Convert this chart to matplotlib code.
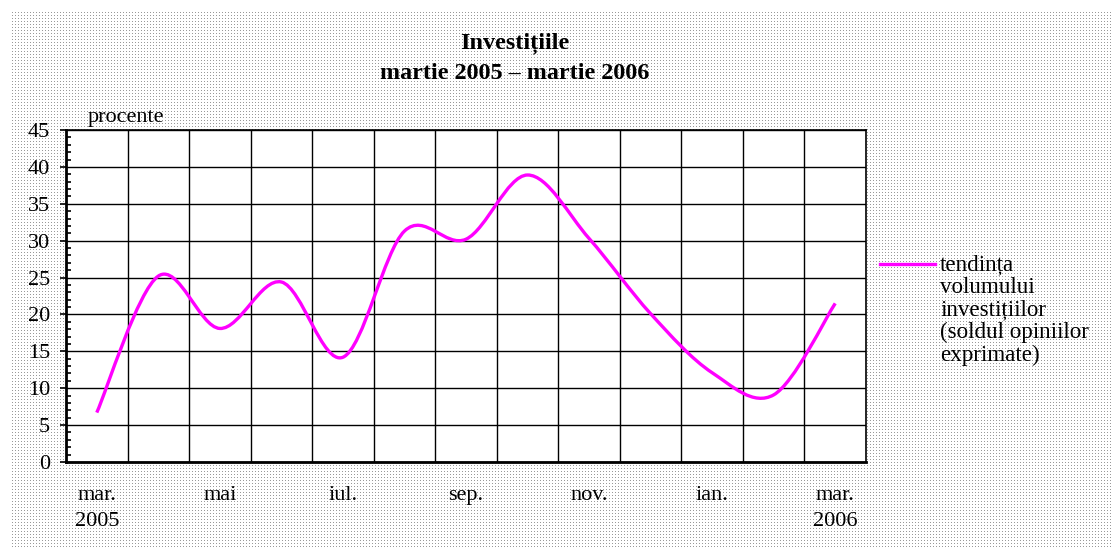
import numpy as np
import matplotlib
matplotlib.use('Agg')
import matplotlib.pyplot as plt
from matplotlib.path import Path
from matplotlib.patches import PathPatch
from matplotlib.lines import Line2D

# Data
months = ['mar.\n2005', 'apr.', 'mai', 'iun.', 'iul.', 'aug.', 'sep.',
          'oct.', 'nov.', 'dec.', 'ian.', 'feb.', 'mar.\n2006']
shown = [0, 2, 4, 6, 8, 10, 12]
values = [6.7, 25.2, 18.1, 24.4, 14.2, 31.3, 30.2,
          38.9, 30.3, 20.1, 12.1, 9.1, 21.5]
series_label = 'tendința\nvolumului\ninvestițiilor\n(soldul opiniilor\nexprimate)'
title = 'Investițiile\nmartie 2005 – martie 2006'

W, H = 1113, 549
serif = ['Liberation Serif', 'DejaVu Serif']
plt.rcParams['font.family'] = serif

fig = plt.figure(figsize=(W / 100, H / 100), dpi=100)
fig.patch.set_facecolor('white')

# dotted background
bg = np.ones((H, W, 3))
rows, cols = np.mgrid[0:H, 0:W]
mask = (rows >= 10) & (cols >= 10) & (rows % 3 == 0) & (cols % 3 == 0)
bg[mask] = 0.6
fig.figimage(bg, xo=0, yo=0, zorder=-1)


def fx(x):
    return x / W


def fy(y):
    return 1 - y / H


ax = fig.add_axes([fx(66), fy(462), fx(866) - fx(66), fy(130) - fy(462)])
ax.set_facecolor('white')

x = np.arange(len(values))
y = np.array(values, dtype=float)

# smoothed line (Excel style bezier)
pts = np.column_stack([x, y])
verts = [pts[0]]
codes = [Path.MOVETO]
n = len(pts)
for i in range(n - 1):
    p0 = pts[max(i - 1, 0)]
    p1 = pts[i]
    p2 = pts[i + 1]
    p3 = pts[min(i + 2, n - 1)]
    c1 = p1 + (p2 - p0) / 6
    c2 = p2 - (p3 - p1) / 6
    verts += [c1, c2, p2]
    codes += [Path.CURVE4] * 3
ax.add_patch(PathPatch(Path(verts, codes), facecolor='none',
                       edgecolor='#ff00ff', lw=2.4, zorder=3,
                       capstyle='butt', joinstyle='round'))

ax.set_xlim(-0.5, len(values) - 0.5)
ax.set_ylim(0, 45)
ax.set_yticks(np.arange(0, 46, 5))
ax.set_yticks(np.arange(0, 46, 1), minor=True)
ax.set_xticks(shown)
ax.set_xticklabels([months[i] for i in shown], linespacing=1.52)
ax.set_xticks(np.arange(0.5, len(values) - 1, 1), minor=True)

ax.tick_params(axis='x', which='both', length=0, pad=17, labelsize=16)
ax.tick_params(axis='y', which='major', direction='out', length=4.3,
               width=1.2, pad=7, labelsize=16)
ax.tick_params(axis='y', which='minor', direction='in', length=3.6, width=1.2)

ax.grid(which='minor', axis='x', color='black', lw=1)
ax.grid(which='major', axis='y', color='black', lw=1)
ax.set_axisbelow(True)

for side in ['top', 'right']:
    ax.spines[side].set_linewidth(1.2)
for side in ['left', 'bottom']:
    ax.spines[side].set_linewidth(2)

ax.text(0.027, 1.008, 'procente', transform=ax.transAxes, fontsize=16,
        ha='left', va='bottom')

fig.text(fx(515), fy(58.5), title, ha='center', va='center', fontsize=17.4,
         fontweight='bold', linespacing=1.55)

# legend
fig.add_artist(Line2D([fx(880), fx(935)], [fy(264), fy(264)],
                      color='#ff00ff', lw=2.4))
fig.text(fx(940), fy(254), series_label, ha='left', va='top', fontsize=16.6,
         linespacing=1.1)

fig.savefig('out.png', dpi=100)
